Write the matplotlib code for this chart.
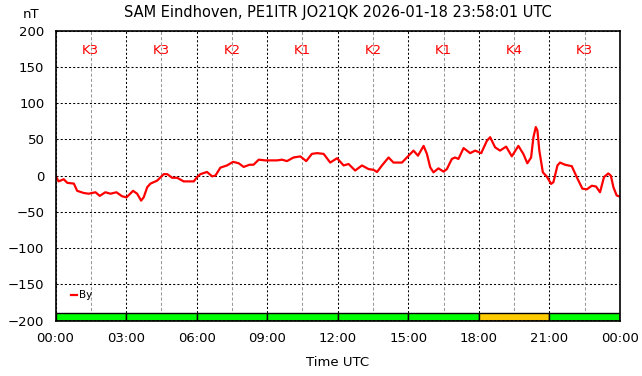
import matplotlib
matplotlib.use("Agg")
import matplotlib.pyplot as plt
import numpy as np

title = "SAM Eindhoven, PE1ITR JO21QK 2026-01-18 23:58:01 UTC"
series_name = "By"

# time in hours since 00:00 UTC, By in nT
hours = [0.00, 0.13, 0.35, 0.50, 0.78, 0.92, 1.20, 1.41, 1.70, 1.88, 2.12, 2.34, 2.59, 2.83,
         3.02, 3.30, 3.47, 3.64, 3.75, 3.90, 4.04, 4.32, 4.60, 4.75, 4.96, 5.17, 5.45, 5.88,
         6.02, 6.16, 6.44, 6.66, 6.80, 7.01, 7.29, 7.55, 7.79, 8.00, 8.25, 8.42, 8.64, 8.92,
         9.42, 9.63, 9.84, 10.12, 10.41, 10.66, 10.90, 11.12, 11.40, 11.68, 11.97, 12.25,
         12.46, 12.74, 13.03, 13.31, 13.52, 13.67, 13.88, 14.16, 14.37, 14.73, 14.94, 15.22,
         15.41, 15.65, 15.79, 15.93, 16.07, 16.28, 16.50, 16.64, 16.85, 16.99, 17.13, 17.35,
         17.49, 17.63, 17.84, 18.10, 18.34, 18.48, 18.69, 18.90, 19.16, 19.40, 19.68, 19.89,
         20.06, 20.22, 20.32, 20.42, 20.49, 20.57, 20.72, 20.89, 21.07, 21.17, 21.34, 21.45,
         21.66, 21.95, 22.16, 22.40, 22.59, 22.80, 22.98, 23.15, 23.32, 23.50, 23.61, 23.72,
         23.86, 24.00]
by_nt = [0, -8, -5, -10, -11, -21, -24, -25, -23, -28, -23, -25, -23, -28.5,
         -30, -21, -25, -34.5, -30, -16, -11, -7, 2, 2, -3, -3, -8, -8,
         -2, 2, 5, -1, 0, 11, 14, 19, 17, 12, 15, 15, 22, 21,
         21, 22, 20, 25, 26.5, 20, 30, 31, 30, 18, 24, 14,
         16, 7, 14, 9, 8, 5, 14, 25, 18, 18, 25, 34.5,
         27.5, 41, 30, 11.5, 4.5, 10, 5.5, 9, 23, 25, 23, 38,
         34.5, 31, 34.5, 31, 48, 53, 39, 34.5, 40, 26.6, 41, 30,
         17, 25, 53, 67, 62, 34.5, 4.5, -1.4, -11.5, -9, 14, 18,
         15, 13, -2, -18, -19, -14, -15, -23, -2, 3, 0, -16,
         -27.5, -29]

# K index per 3-hour block
k_labels = ["K3", "K3", "K2", "K1", "K2", "K1", "K4", "K3"]
k_colors = ["#00ff00", "#00ff00", "#00ff00", "#00ff00", "#00ff00", "#00ff00", "#ffcc00", "#00ff00"]
x_tick_labels = ["00:00", "03:00", "06:00", "09:00", "12:00", "15:00", "18:00", "21:00", "00:00"]

ymin, ymax = -200, 200
block = 3.0

fig = plt.figure(figsize=(6.42, 3.76), dpi=100)
ax = fig.add_axes([55.5 / 642, 1 - 320.5 / 376, (620 - 55.5) / 642, (320.5 - 30.7) / 376])

ax.set_xlim(0, 24)
ax.set_ylim(ymin, ymax)

# grid
ax.set_xticks(np.arange(0, 24.01, block))
ax.set_xticks(np.arange(block / 2, 24, block), minor=True)
ax.set_yticks(np.arange(ymin, ymax + 1, 50))
ax.set_xticklabels(x_tick_labels)
ax.grid(which="major", axis="both", color="black", linestyle=(0, (2, 2)), linewidth=0.75, zorder=1)
ax.grid(which="minor", axis="x", color="#999999", linestyle=(0, (3, 2)), linewidth=0.75, zorder=1)
ax.tick_params(which="both", length=0, labelsize=9.5)
ax.tick_params(axis="x", pad=8)
ax.tick_params(axis="y", pad=8)

# K-index bars at bottom
starts = np.arange(0, 24, block)
ax.bar(starts, 10, width=block, bottom=ymin, align="edge", color=k_colors,
       edgecolor="black", linewidth=1.0, zorder=2)
ax.axhline(ymin + 0.6, color="black", linestyle=(0, (2, 2)), linewidth=0.75, zorder=3)

# K labels
for s, lab in zip(starts, k_labels):
    ax.text(s + block / 2, 172, lab, color="red", fontsize=9.5, ha="center", va="center", zorder=4)

ax.plot(hours, by_nt, color="red", linewidth=1.6, label=series_name, zorder=5)

leg = ax.legend(loc="lower left", bbox_to_anchor=(0.015, 0.045), frameon=False, fontsize=7.5,
                handlelength=0.55, handletextpad=0.2, borderpad=0.2)

for sp in ax.spines.values():
    sp.set_linewidth(1.2)
    sp.set_zorder(6)

fig.text(337.5 / 642, 1 - 12 / 376, title, fontsize=10.5, ha="center", va="center")
fig.text(31 / 642, 1 - 14 / 376, "nT", fontsize=9.5, ha="center", va="center")
fig.text(337.5 / 642, 1 - 362 / 376, "Time UTC", fontsize=9.5, ha="center", va="center")

fig.savefig("out.png", dpi=100)
